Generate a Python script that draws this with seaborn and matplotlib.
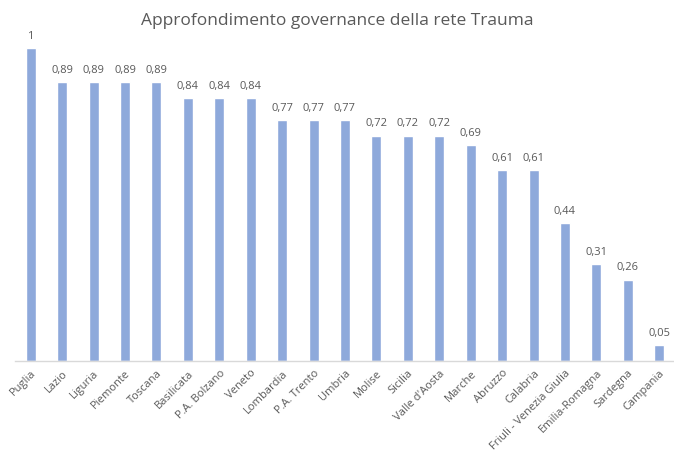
import matplotlib
matplotlib.use("Agg")
import matplotlib.pyplot as plt
import seaborn as sns
import pandas as pd

regioni = ["Puglia", "Lazio", "Liguria", "Piemonte", "Toscana", "Basilicata",
           "P.A. Bolzano", "Veneto", "Lombardia", "P.A. Trento", "Umbria", "Molise",
           "Sicilia", "Valle d'Aosta", "Marche", "Abruzzo", "Calabria",
           "Friuli - Venezia Giulia", "Emilia-Romagna", "Sardegna", "Campania"]
valori = [1.00, 0.89, 0.89, 0.89, 0.89, 0.84, 0.84, 0.84, 0.77, 0.77, 0.77, 0.72,
          0.72, 0.72, 0.69, 0.61, 0.61, 0.44, 0.31, 0.26, 0.05]
titolo = "Approfondimento governance della rete Trauma"

sns.set_theme(style="white")
plt.rcParams["font.family"] = ["Open Sans", "DejaVu Sans"]

df = pd.DataFrame({"regione": regioni, "valore": valori})

fig = plt.figure(figsize=(6.74, 4.59), dpi=100)
ax = fig.add_axes([15 / 674, 1 - 361 / 459, 660 / 674, 313 / 459])

sns.barplot(data=df, x="regione", y="valore", color="#8EA9DB", saturation=1,
            width=0.32, ax=ax)

ax.set_ylim(0, 1)
ax.set_xlim(-0.5, len(regioni) - 0.5)
for i, v in enumerate(valori):
    ax.text(i, v + 0.02, f"{v:.2f}".replace(".", ",").replace("1,00", "1"),
            ha="center", va="bottom", fontsize=8, color="#595959", clip_on=False)

ax.set_xlabel("")
ax.set_ylabel("")
ax.set_yticks([])
ax.tick_params(axis="x", length=0, pad=5)
plt.setp(ax.get_xticklabels(), rotation=45, ha="right", rotation_mode="anchor",
         fontsize=8, color="#595959")
for s in ["top", "right", "left"]:
    ax.spines[s].set_visible(False)
ax.spines["bottom"].set_color("#D9D9D9")
ax.spines["bottom"].set_linewidth(1)

fig.text(0.5, 1 - 21 / 459, titolo, ha="center", va="center", fontsize=12.5,
         color="#595959")

fig.savefig("out.png", dpi=100)
